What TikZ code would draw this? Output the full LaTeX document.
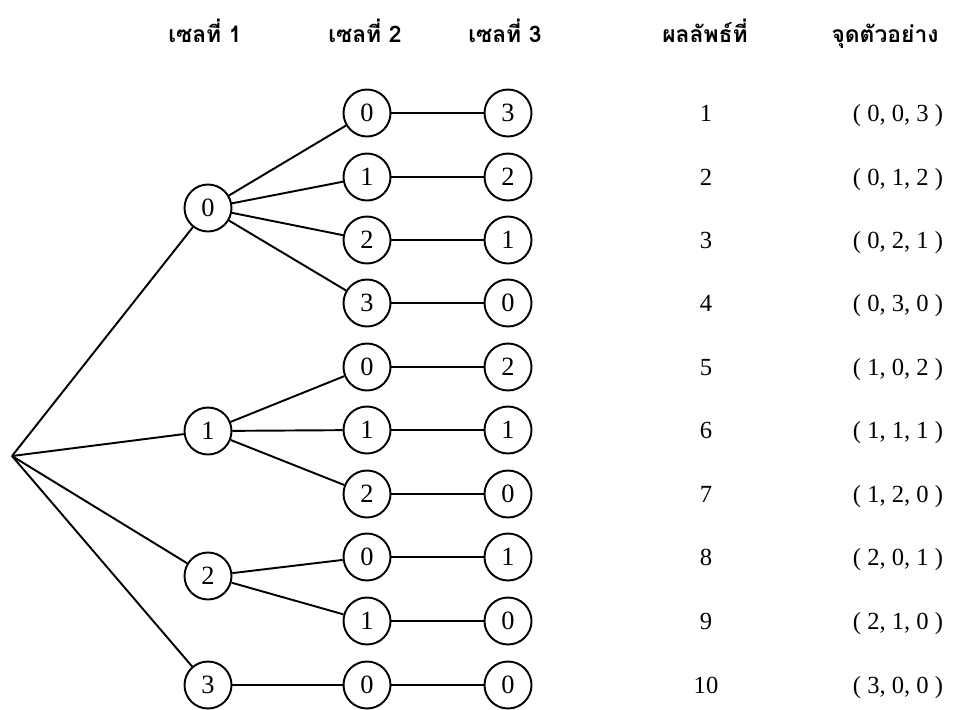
\documentclass[tikz,border=0pt]{standalone}
\usepackage{fontspec}
\setmainfont{Liberation Serif}
\newfontfamily\thaifont[Script=Thai]{Loma}
\usepackage{tikz}

\tikzset{
  cell/.style={draw,circle,line width=1.1pt,minimum size=9.4mm,inner sep=0pt,font=\fontsize{15}{17}\selectfont},
  head/.style={anchor=base,font=\thaifont\bfseries\fontsize{13}{15}\selectfont},
  res/.style={anchor=base,font=\fontsize{14}{16}\selectfont}
}

\begin{document}
\begin{tikzpicture}[x=0.2mm,y=-0.2mm,line width=1.1pt]
        \useasboundingbox (0,0) rectangle (957,709);
        % column heads
        \node[head] (h1) at (205,42) {เซลที่ 1};
        \node[head] (h2) at (365,42) {เซลที่ 2};
        \node[head] (h3) at (505,42) {เซลที่ 3};
        \node[head] (h4) at (705,42) {ผลลัพธ์ที่};
        \node[head] (h5) at (885,42) {จุดตัวอย่าง};
        % first cell
        \coordinate (r) at (12,456);
        \node[cell] (a0) at (208,208) {0};
        \node[cell] (a1) at (208,431) {1};
        \node[cell] (a2) at (208,576) {2};
        \node[cell] (a3) at (208,685) {3};
        % second cell
        \node[cell] (b1) at (367,113) {0};
        \node[cell] (b2) at (367,177) {1};
        \node[cell] (b3) at (367,240) {2};
        \node[cell] (b4) at (367,303) {3};
        \node[cell] (b5) at (367,367) {0};
        \node[cell] (b6) at (367,430) {1};
        \node[cell] (b7) at (367,494) {2};
        \node[cell] (b8) at (367,557) {0};
        \node[cell] (b9) at (367,621) {1};
        \node[cell] (b10) at (367,685) {0};
        % third cell
        \node[cell] (c1) at (508,113) {3};
        \node[cell] (c2) at (508,177) {2};
        \node[cell] (c3) at (508,240) {1};
        \node[cell] (c4) at (508,303) {0};
        \node[cell] (c5) at (508,367) {2};
        \node[cell] (c6) at (508,430) {1};
        \node[cell] (c7) at (508,494) {0};
        \node[cell] (c8) at (508,557) {1};
        \node[cell] (c9) at (508,621) {0};
        \node[cell] (c10) at (508,685) {0};
        % branches
        \draw (r) -- (a0);
        \draw (r) -- (a1);
        \draw (r) -- (a2);
        \draw (r) -- (a3);
        \draw (a0) -- (b1);
        \draw (a0) -- (b2);
        \draw (a0) -- (b3);
        \draw (a0) -- (b4);
        \draw (a1) -- (b5);
        \draw (a1) -- (b6);
        \draw (a1) -- (b7);
        \draw (a2) -- (b8);
        \draw (a2) -- (b9);
        \draw (a3) -- (b10);
        \draw (b1) -- (c1);
        \draw (b2) -- (c2);
        \draw (b3) -- (c3);
        \draw (b4) -- (c4);
        \draw (b5) -- (c5);
        \draw (b6) -- (c6);
        \draw (b7) -- (c7);
        \draw (b8) -- (c8);
        \draw (b9) -- (c9);
        \draw (b10) -- (c10);
        % outcomes and sample points (on the row baselines)
        \node[res] (n1) at (706,121) {1};
        \node[res] (n2) at (706,185) {2};
        \node[res] (n3) at (706,248) {3};
        \node[res] (n4) at (706,311) {4};
        \node[res] (n5) at (706,375) {5};
        \node[res] (n6) at (706,438) {6};
        \node[res] (n7) at (706,502) {7};
        \node[res] (n8) at (706,565) {8};
        \node[res] (n9) at (706,629) {9};
        \node[res] (n10) at (706,693) {10};
        \node[res] (p1) at (898,121) {( 0, 0, 3 )};
        \node[res] (p2) at (898,185) {( 0, 1, 2 )};
        \node[res] (p3) at (898,248) {( 0, 2, 1 )};
        \node[res] (p4) at (898,311) {( 0, 3, 0 )};
        \node[res] (p5) at (898,375) {( 1, 0, 2 )};
        \node[res] (p6) at (898,438) {( 1, 1, 1 )};
        \node[res] (p7) at (898,502) {( 1, 2, 0 )};
        \node[res] (p8) at (898,565) {( 2, 0, 1 )};
        \node[res] (p9) at (898,629) {( 2, 1, 0 )};
        \node[res] (p10) at (898,693) {( 3, 0, 0 )};
\end{tikzpicture}
\end{document}
